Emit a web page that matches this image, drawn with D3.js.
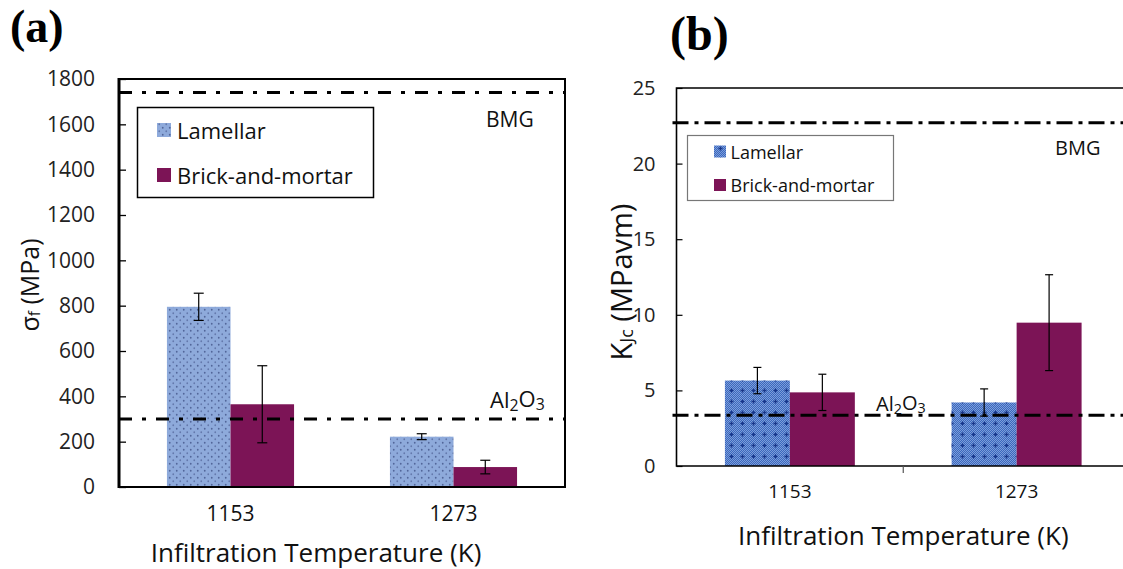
<!DOCTYPE html>
<html>
<head>
<meta charset="utf-8">
<script src="https://cdn.jsdelivr.net/npm/d3@7"></script>
<style>
  html, body { margin: 0; padding: 0; background: #fff; }
  svg { display: block; font-family: "Open Sans", "DejaVu Sans", sans-serif; }
</style>
</head>
<body>
<svg id="fig" width="1123" height="569"></svg>
<script>
// Infiltration temperatures (K)
const categories = ["1153", "1273"];
const seriesNames = ["Lamellar", "Brick-and-mortar"];

// (a) flexural strength, MPa
const strengthLamellar = [795, 222];
const strengthLamellarErr = [60, 13];
const strengthBrick = [365, 88];
const strengthBrickErr = [170, 30];
const strengthTicks = [0, 200, 400, 600, 800, 1000, 1200, 1400, 1600, 1800];
const strengthBMG = 1740;
const strengthAl2O3 = 300;

// (b) fracture toughness, MPa·m^1/2
const toughLamellar = [5.65, 4.2];
const toughLamellarErr = [0.87, 0.9];
const toughBrick = [4.87, 9.48];
const toughBrickErr = [1.2, 3.17];
const toughTicks = [0, 5, 10, 15, 20, 25];
const toughBMG = 22.7;
const toughAl2O3 = 3.35;

const BRICK = "#7c1456";

const svg = d3.select("#fig");
const defs = svg.append("defs");

// light dotted fill for panel (a)
const pA = defs.append("pattern").attr("id", "lamA")
  .attr("patternUnits", "userSpaceOnUse").attr("width", 7).attr("height", 7);
pA.append("rect").attr("width", 7).attr("height", 7).attr("fill", "#8eaadb");
pA.append("circle").attr("cx", 1.75).attr("cy", 1.75).attr("r", 0.9).attr("fill", "#52669a");
pA.append("circle").attr("cx", 5.25).attr("cy", 5.25).attr("r", 0.9).attr("fill", "#6479ad");

// fine checker + crosses for panel (b)
const pD = defs.append("pattern").attr("id", "ditherB")
  .attr("patternUnits", "userSpaceOnUse").attr("width", 2).attr("height", 2);
pD.append("rect").attr("width", 2).attr("height", 2).attr("fill", "#3b68bd");
pD.append("rect").attr("width", 1).attr("height", 1).attr("fill", "#7c9ddb");
pD.append("rect").attr("x", 1).attr("y", 1).attr("width", 1).attr("height", 1).attr("fill", "#7c9ddb");
const pC = defs.append("pattern").attr("id", "crossB")
  .attr("patternUnits", "userSpaceOnUse").attr("width", 11).attr("height", 11);
pC.append("path").attr("d", "M5.5 3.5v4M3.5 5.5h4")
  .attr("stroke", "#17368a").attr("stroke-width", 1.3);

function refLine(g, x0, x1, y, dash, width) {
  g.append("line").attr("x1", x0).attr("x2", x1).attr("y1", y).attr("y2", y)
    .attr("stroke", "#000").attr("stroke-width", width).attr("stroke-dasharray", dash);
}

function errBar(g, cx, yTop, yBot, cap) {
  g.append("line").attr("x1", cx).attr("x2", cx).attr("y1", yTop).attr("y2", yBot)
    .attr("stroke", "#000").attr("stroke-width", 1.2);
  [yTop, yBot].forEach(yy => g.append("line")
    .attr("x1", cx - cap / 2).attr("x2", cx + cap / 2).attr("y1", yy).attr("y2", yy)
    .attr("stroke", "#000").attr("stroke-width", 1.2));
}

function chem(textSel, sub1, sub2) {
  textSel.append("tspan").text("Al");
  textSel.append("tspan").attr("font-size", "0.72em").attr("dy", "0.2em").text(sub1);
  textSel.append("tspan").attr("dy", "-0.2em").text("O");
  textSel.append("tspan").attr("font-size", "0.72em").attr("dy", "0.2em").text(sub2);
}

/* ---------------- panel (a) ---------------- */
{
  const L = 119, R = 565, T = 79, B = 487;
  const g = svg.append("g");
  const x = d3.scaleBand().domain(categories).range([L, R]).paddingInner(0.43).paddingOuter(0.215);
  const xs = d3.scaleBand().domain(seriesNames).range([0, x.bandwidth()]);
  const y = d3.scaleLinear().domain([0, 1800]).range([B, T]);

  const vals = [strengthLamellar, strengthBrick];
  const errs = [strengthLamellarErr, strengthBrickErr];
  const fills = ["url(#lamA)", BRICK];

  seriesNames.forEach((s, si) => {
    g.append("g").selectAll("rect").data(categories).join("rect")
      .attr("x", c => x(c) + xs(s))
      .attr("y", (c, i) => y(vals[si][i]))
      .attr("width", xs.bandwidth())
      .attr("height", (c, i) => B - y(vals[si][i]))
      .attr("fill", fills[si]);
  });
  seriesNames.forEach((s, si) => {
    categories.forEach((c, i) => {
      const cx = x(c) + xs(s) + xs.bandwidth() / 2;
      errBar(g, cx, y(vals[si][i] + errs[si][i]), y(vals[si][i] - errs[si][i]), 10);
    });
  });

  refLine(g, L, R, y(strengthBMG), "13,10,4,10", 3);
  refLine(g, L, R, y(strengthAl2O3), "13,10,4,10", 3);

  // frame
  g.append("rect").attr("x", L).attr("y", T).attr("width", R - L).attr("height", B - T)
    .attr("fill", "none").attr("stroke", "#000").attr("stroke-width", 2);
  g.append("line").attr("x1", L).attr("x2", L).attr("y1", T - 1).attr("y2", B + 1)
    .attr("stroke", "#000").attr("stroke-width", 3);

  const ay = g.append("g").attr("transform", `translate(${L},0)`)
    .call(d3.axisLeft(y).tickValues(strengthTicks).tickFormat(d3.format("d"))
      .tickSizeInner(-7).tickSizeOuter(0).tickPadding(24));
  ay.select(".domain").remove();
  ay.selectAll(".tick line").attr("stroke", "#000").attr("stroke-width", 1.3);
  ay.selectAll("text").attr("font-size", 21).attr("fill", "#222").attr("font-family", "Open Sans");

  const ax = g.append("g").attr("transform", `translate(0,${B})`)
    .call(d3.axisBottom(x).tickSize(0).tickPadding(19));
  ax.select(".domain").remove();
  ax.selectAll("text").attr("font-size", 21).attr("fill", "#111").attr("font-family", "Open Sans");

  // legend
  g.append("rect").attr("x", 137.5).attr("y", 107.5).attr("width", 236).attr("height", 90)
    .attr("fill", "#fff").attr("stroke", "#000").attr("stroke-width", 1.5);
  const legY = [130, 175];
  seriesNames.forEach((s, si) => {
    g.append("rect").attr("x", 157).attr("y", legY[si] - 7).attr("width", 14).attr("height", 14)
      .attr("fill", fills[si]);
    g.append("text").attr("x", 177).attr("y", legY[si]).attr("dominant-baseline", "central")
      .attr("font-size", 22).attr("fill", "#111").text(s);
  });

  g.append("text").attr("x", 486).attr("y", 119).attr("dominant-baseline", "central")
    .attr("font-size", 21).attr("fill", "#111").text("BMG");
  chem(g.append("text").attr("x", 490).attr("y", 408)
    .attr("font-size", 22).attr("fill", "#111"), "2", "3");

  g.append("text").attr("x", 316).attr("y", 552).attr("text-anchor", "middle")
    .attr("dominant-baseline", "central").attr("font-size", 26).attr("fill", "#111")
    .text("Infiltration Temperature (K)");

  const yl = g.append("text").attr("transform", "translate(29,285) rotate(-90)")
    .attr("text-anchor", "middle").attr("dominant-baseline", "central")
    .attr("font-size", 25).attr("fill", "#111");
  yl.append("tspan").text("σ");
  yl.append("tspan").attr("font-size", "0.62em").attr("dy", "0.35em").text("f");
  yl.append("tspan").attr("dy", "-0.22em").text(" (MPa)");

  g.append("text").attr("x", 10).attr("y", 42).attr("font-family", "Liberation Serif")
    .attr("font-weight", "bold").attr("font-size", 46).attr("fill", "#000").text("(a)");
}

/* ---------------- panel (b) ---------------- */
{
  const L = 676.5, R = 1130, T = 88, B = 466;
  const g = svg.append("g");
  const x = d3.scaleBand().domain(categories).range([L, R]).paddingInner(0.427).paddingOuter(0.2135);
  const xs = d3.scaleBand().domain(seriesNames).range([0, x.bandwidth()]);
  const y = d3.scaleLinear().domain([0, 25]).range([B, T]);

  const vals = [toughLamellar, toughBrick];
  const errs = [toughLamellarErr, toughBrickErr];

  categories.forEach((c, i) => {
    const x0 = x(c) + xs("Lamellar");
    const yy = y(toughLamellar[i]);
    g.append("rect").attr("x", x0).attr("y", yy).attr("width", xs.bandwidth())
      .attr("height", B - yy).attr("fill", "url(#ditherB)");
    g.append("rect").attr("x", x0).attr("y", yy).attr("width", xs.bandwidth())
      .attr("height", B - yy).attr("fill", "url(#crossB)");
  });
  g.append("g").selectAll("rect").data(categories).join("rect")
    .attr("x", c => x(c) + xs("Brick-and-mortar"))
    .attr("y", (c, i) => y(toughBrick[i]))
    .attr("width", xs.bandwidth())
    .attr("height", (c, i) => B - y(toughBrick[i]))
    .attr("fill", BRICK);

  seriesNames.forEach((s, si) => {
    categories.forEach((c, i) => {
      const cx = x(c) + xs(s) + xs.bandwidth() / 2;
      errBar(g, cx, y(vals[si][i] + errs[si][i]), y(vals[si][i] - errs[si][i]), 8);
    });
  });

  refLine(g, L - 4, R, y(toughBMG), "16,6,4,6", 3);
  refLine(g, L - 4, R, y(toughAl2O3), "16,6,4,6", 3);

  // frame (open on the right)
  g.append("path").attr("d", `M${R},${T}H${L}V${B}H${R}`)
    .attr("fill", "none").attr("stroke", "#000").attr("stroke-width", 1.6);

  const ay = g.append("g").attr("transform", `translate(${L},0)`)
    .call(d3.axisLeft(y).tickValues(toughTicks).tickFormat(d3.format("d"))
      .tickSizeInner(-6).tickSizeOuter(0).tickPadding(21));
  ay.select(".domain").remove();
  ay.selectAll(".tick line").attr("stroke", "#000").attr("stroke-width", 1.2);
  ay.selectAll("text").attr("font-size", 20).attr("fill", "#222").attr("font-family", "Open Sans");

  const ax = g.append("g").attr("transform", `translate(0,${B})`)
    .call(d3.axisBottom(x).tickSize(0).tickPadding(19));
  ax.select(".domain").remove();
  ax.selectAll("text").attr("font-size", 19).attr("fill", "#111").attr("font-family", "Open Sans");

  // separator tick between the two temperature groups
  const mid = (x(categories[0]) + x(categories[1]) + x.bandwidth()) / 2;
  g.append("line").attr("x1", mid).attr("x2", mid).attr("y1", B).attr("y2", B + 7)
    .attr("stroke", "#555").attr("stroke-width", 1.2);

  // legend
  g.append("rect").attr("x", 687.5).attr("y", 135.5).attr("width", 206).attr("height", 65)
    .attr("fill", "#fff").attr("stroke", "#777").attr("stroke-width", 1.2);
  const legY = [151.5, 185];
  [["url(#ditherB)", "url(#crossB)"], [BRICK]].forEach((fs, si) => {
    fs.forEach(f => g.append("rect").attr("x", 714).attr("y", legY[si] - 6)
      .attr("width", 12).attr("height", 12).attr("fill", f));
    g.append("text").attr("x", 730.5).attr("y", legY[si]).attr("dominant-baseline", "central")
      .attr("font-size", 18).attr("fill", "#111").text(seriesNames[si]);
  });

  g.append("text").attr("x", 1055).attr("y", 147).attr("dominant-baseline", "central")
    .attr("font-size", 20).attr("fill", "#111").text("BMG");
  chem(g.append("text").attr("x", 876).attr("y", 411)
    .attr("font-size", 20).attr("fill", "#111"), "2", "3");

  g.append("text").attr("x", mid).attr("y", 535).attr("text-anchor", "middle")
    .attr("dominant-baseline", "central").attr("font-size", 26).attr("fill", "#111")
    .text("Infiltration Temperature (K)");

  const yl = g.append("text").attr("transform", "translate(620,282) rotate(-90)")
    .attr("text-anchor", "middle").attr("dominant-baseline", "central")
    .attr("font-size", 29).attr("fill", "#111");
  yl.append("tspan").text("K");
  yl.append("tspan").attr("font-size", "0.62em").attr("dy", "0.35em").text("Jc");
  yl.append("tspan").attr("dy", "-0.22em").text(" (MPavm)");

  g.append("text").attr("x", 670).attr("y", 50).attr("font-family", "Liberation Serif")
    .attr("font-weight", "bold").attr("font-size", 48).attr("fill", "#000").text("(b)");
}
</script>
</body>
</html>
